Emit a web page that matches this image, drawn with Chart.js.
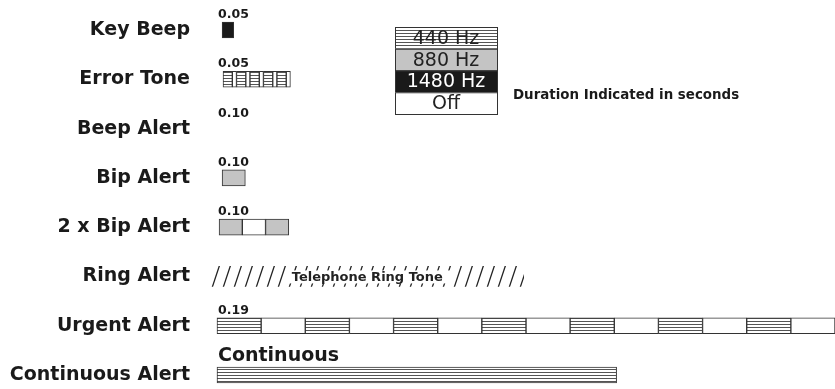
<!DOCTYPE html>
<html>
<head>
<meta charset="utf-8">
<title>Alert Tones</title>
<script src="https://cdn.jsdelivr.net/npm/chart.js@4.4.1/dist/chart.umd.min.js"></script>
<style>
  html, body { margin: 0; padding: 0; background: #fff; }
  canvas { display: block; }
</style>
</head>
<body>
<canvas id="toneChart" width="835" height="389"></canvas>
<script>
const alerts = ["Key Beep", "Error Tone", "Beep Alert", "Bip Alert", "2 x Bip Alert", "Ring Alert", "Urgent Alert", "Continuous Alert"];
const durationText = ["0.05", "0.05", "0.10", "0.10", "0.10", "", "0.19", "Continuous"];
const toneLabels = ["440 Hz", "880 Hz", "1480 Hz", "Off"];

// tone segments, seconds [start, end]
const keyBeep = [[0.022, 0.072]];
const errorPulses = [[0.026, 0.066], [0.084, 0.124], [0.142, 0.182], [0.2, 0.24], [0.258, 0.298]];
const errorGaps = [[0.066, 0.084], [0.124, 0.142], [0.182, 0.2], [0.24, 0.258], [0.298, 0.316]];
const bipAlert = [[0.022, 0.122]];
const twoBipOn = [[0.009, 0.109], [0.209, 0.309]];
const twoBipOff = [[0.109, 0.209]];
const ringTone = [[-0.026, 1.32]];
const urgentOn = [[0, 0.19], [0.38, 0.57], [0.76, 0.95], [1.14, 1.33], [1.52, 1.71], [1.9, 2.09], [2.28, 2.47]];
const urgentOff = [[0.19, 0.38], [0.57, 0.76], [0.95, 1.14], [1.33, 1.52], [1.71, 1.9], [2.09, 2.28], [2.47, 2.66]];
const continuous = [[0, 1.72]];

function seg(alert, list) {
  return list.map(([s, e]) => ({ y: alert, x: [s, e] }));
}

// fill patterns
function hatchLines() {
  const c = document.createElement("canvas");
  c.width = 4; c.height = 3;
  const g = c.getContext("2d");
  g.fillStyle = "#fff"; g.fillRect(0, 0, 4, 3);
  g.fillStyle = "#555"; g.fillRect(0, 0, 4, 1);
  return g.createPattern(c, "repeat");
}
function slashes() {
  const c = document.createElement("canvas");
  c.width = 11; c.height = 33;
  const g = c.getContext("2d");
  g.strokeStyle = "#222"; g.lineWidth = 1.3;
  [-11, 0, 11].forEach(o => {
    g.beginPath(); g.moveTo(o, 33); g.lineTo(o + 11, 0); g.stroke();
  });
  return g.createPattern(c, "repeat");
}

const ctx = document.getElementById("toneChart").getContext("2d");
const font = '"DejaVu Sans"';

const base = { grouped: false, barThickness: 16, borderWidth: 1, borderColor: "#333", borderSkipped: false, clip: false };

const datasets = [
  Object.assign({}, base, {
    label: toneLabels[0], backgroundColor: hatchLines(),
    data: [].concat(seg(alerts[1], errorPulses), seg(alerts[6], urgentOn), seg(alerts[7], continuous)),
  }),
  Object.assign({}, base, {
    label: toneLabels[1], backgroundColor: "#c4c4c4",
    data: [].concat(seg(alerts[3], bipAlert), seg(alerts[4], twoBipOn)),
  }),
  Object.assign({}, base, {
    label: toneLabels[2], backgroundColor: "#1a1a1a",
    data: seg(alerts[0], keyBeep),
  }),
  Object.assign({}, base, {
    label: toneLabels[3], backgroundColor: "#fff",
    data: [].concat(seg(alerts[1], errorGaps), seg(alerts[4], twoBipOff), seg(alerts[6], urgentOff)),
  }),
  Object.assign({}, base, {
    label: "Telephone Ring Tone", backgroundColor: slashes(), borderWidth: 0, barThickness: 20,
    data: seg(alerts[5], ringTone),
  }),
];

// duration captions, ring tone caption, tone key
const annotations = {
  id: "annotations",
  afterDatasetsDraw(chart) {
    const c = chart.ctx;
    const xs = chart.scales.x, ys = chart.scales.y;
    c.save();
    c.fillStyle = "#1a1a1a";
    c.textAlign = "left";
    c.textBaseline = "bottom";
    durationText.forEach((t, i) => {
      if (!t) return;
      c.font = (i === 7 ? "bold 19px " : "bold 12.5px ") + font;
      c.fillText(t, xs.getPixelForValue(0) + 1, ys.getPixelForValue(i) - 9);
    });

    // ring tone caption breaks the slashes
    const ring = chart.getDatasetMeta(4).data[0];
    const cx = (ring.x + ring.base) / 2, cy = ring.y;
    c.font = "bold 13px " + font;
    const lbl = chart.data.datasets[4].label;
    const w = c.measureText(lbl).width;
    c.fillStyle = "#fff";
    c.fillRect(cx - w / 2 - 4, cy - 6, w + 12, 13);
    c.fillStyle = "#222";
    c.textAlign = "center";
    c.textBaseline = "middle";
    c.fillText(lbl, cx, cy + 1);

    // tone key
    const kx = 395, ky = 27, kw = 102, kh = 21.75;
    for (let i = 0; i < 4; i++) {
      const ds = chart.data.datasets[i];
      c.fillStyle = ds.backgroundColor;
      c.fillRect(kx, ky + i * kh, kw, kh);
      c.fillStyle = i === 2 ? "#fff" : "#222";
      c.font = "19px " + font;
      c.fillText(ds.label, kx + kw / 2, ky + i * kh + kh / 2 + 1);
      c.strokeStyle = "#333"; c.lineWidth = 1;
      c.strokeRect(kx + 0.5, ky + i * kh + 0.5, kw, kh);
    }

    c.fillStyle = "#1a1a1a";
    c.textAlign = "left";
    c.font = "bold 13.4px " + font;
    c.fillText("Duration Indicated in seconds", 513, 96);
    c.restore();
  }
};

new Chart(ctx, {
  type: "bar",
  data: { labels: alerts, datasets: datasets },
  options: {
    indexAxis: "y",
    responsive: false,
    animation: false,
    events: [],
    layout: { padding: { top: 30, bottom: 14, left: 0, right: 0 } },
    scales: {
      x: { type: "linear", display: false, min: -0.043, max: 2.66 },
      y: {
        type: "category",
        offset: false,
        grid: { display: false, drawTicks: false },
        border: { display: false },
        ticks: {
          autoSkip: false,
          padding: 17,
          color: "#1a1a1a",
          font: { family: "DejaVu Sans", weight: "bold", size: 19 },
        },
        afterFit: (s) => {
          s.width = 207;
          // tick padding is horizontal here, keep it out of the vertical spacing
          s.paddingTop = 0;
          s.paddingBottom = 0;
        },
      },
    },
    plugins: {
      legend: { display: false },
      tooltip: { enabled: false },
    },
  },
  plugins: [annotations],
});
</script>
</body>
</html>
